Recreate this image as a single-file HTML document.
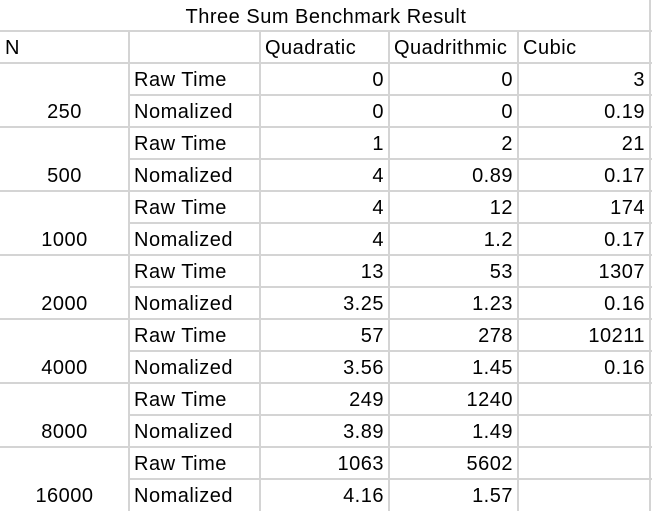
<!DOCTYPE html>
<html><head><meta charset="utf-8"><style>
body{margin:0;width:652px;height:510px;background:#fff;overflow:hidden;font-family:"Liberation Sans",sans-serif;}
.c{position:absolute;font-size:20px;letter-spacing:0.5px;color:#000;line-height:32px;height:32px;white-space:nowrap;}
.h{position:absolute;background:#d4d4d4;height:2px;}
.v{position:absolute;background:#d4d4d4;width:2px;}
</style></head><body>
<div id="sheet"></div>
<script>
const sizes=["250","500","1000","2000","4000","8000","16000"];
const quadRaw=["0","1","4","13","57","249","1063"];
const quadNorm=["0","4","4","3.25","3.56","3.89","4.16"];
const qlogRaw=["0","2","12","53","278","1240","5602"];
const qlogNorm=["0","0.89","1.2","1.23","1.45","1.49","1.57"];
const cubRaw=["3","21","174","1307","10211","",""];
const cubNorm=["0.19","0.17","0.17","0.16","0.16","",""];
const s=document.getElementById('sheet');
const colX=[0,129,260,389,518,650];
function cell(txt,col,top,align,name){
 const d=document.createElement('div');d.className='c';
 
 
 d.style.top=top+'px';d.style.left=(colX[col]+5)+'px';d.style.width=(colX[col+1]-colX[col]-10)+'px';
 d.style.textAlign=align;d.textContent=txt;s.appendChild(d);
}
function line(cls,x,y,len,name){
 const d=document.createElement('div');d.className=cls;
 
 
 d.style.left=x+'px';d.style.top=y+'px';
 if(cls==='h')d.style.width=len+'px';else d.style.height=len+'px';s.appendChild(d);
}
const t=document.createElement('div');t.className='c';


t.style.top='1px';t.style.left='0';t.style.width='652px';t.style.textAlign='center';t.textContent='Three Sum Benchmark Result';s.appendChild(t);
cell('N',0,32,'left','header-n');
cell('Quadratic',2,32,'left','header-quadratic');
cell('Quadrithmic',3,32,'left','header-quadrithmic');
cell('Cubic',4,32,'left','header-cubic');
line('h',0,30,652,'grid-line');
line('h',0,62,652,'grid-line');
for(let i=0;i<sizes.length;i++){
 const y0=62+i*64;
 line('h',129,y0+32,523,'grid-line');
 if(i<sizes.length-1)line('h',0,y0+64,652,'grid-line');
}
[128,259,388,517].forEach(x=>line('v',x,31,480,'grid-line'));
line('v',649,0,511,'grid-line');
for(let i=0;i<sizes.length;i++){
 const y=64+i*64;
 cell(sizes[i],0,y+32,'center','n-value');
 cell('Raw Time',1,y,'left','raw-time-label');
 cell('Nomalized',1,y+32,'left','normalized-label');
 cell(quadRaw[i],2,y,'right','quadratic-raw');
 cell(quadNorm[i],2,y+32,'right','quadratic-norm');
 cell(qlogRaw[i],3,y,'right','quadrithmic-raw');
 cell(qlogNorm[i],3,y+32,'right','quadrithmic-norm');
 cell(cubRaw[i],4,y,'right','cubic-raw');
 cell(cubNorm[i],4,y+32,'right','cubic-norm');
}
</script>
</body></html>
